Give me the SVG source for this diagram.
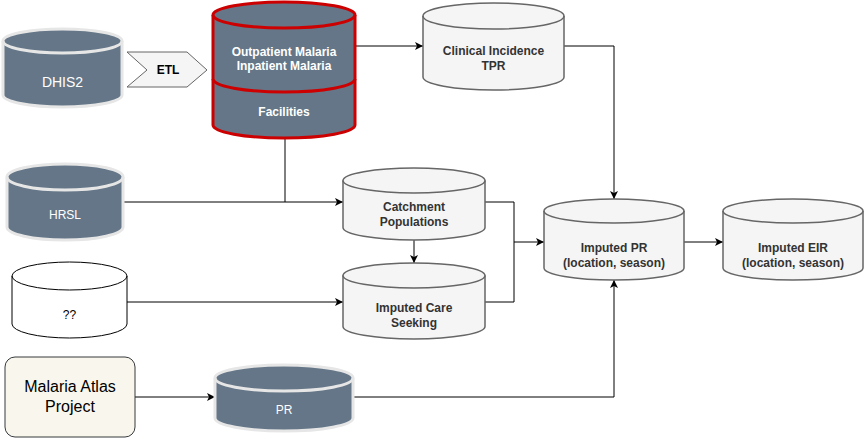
<svg xmlns="http://www.w3.org/2000/svg" width="865" height="439" viewBox="0 0 865 439">
<style>
.dark{fill:#647687;stroke:#e6e6e6;stroke-width:3}
.darkin{fill:none;stroke:#e6e6e6;stroke-width:3}
.red{fill:#647687;stroke:#cc0000;stroke-width:3}
.redin{fill:none;stroke:#cc0000;stroke-width:3}
.light{fill:#f5f5f5;stroke:#666666;stroke-width:1.5}
.lightin{fill:none;stroke:#666666;stroke-width:1.5}
.white{fill:#ffffff;stroke:#000000;stroke-width:1}
.whitein{fill:none;stroke:#000000;stroke-width:1}
text{font-family:"Liberation Sans",Arial,sans-serif;text-anchor:middle}
.wt{fill:#ffffff;font-size:12px;font-weight:bold}
.wr{fill:#ffffff;font-size:12px}
.gt{fill:#333333;font-size:12px;font-weight:bold}
.conn{fill:none;stroke:#000000;stroke-width:1}
</style>
<defs>
<marker id="arr" markerUnits="userSpaceOnUse" markerWidth="10" markerHeight="10" refX="8" refY="4" orient="auto">
<path d="M0,0 L8,4 L0,8 L2,4 Z" fill="#000000"/>
</marker>
</defs>

<g id="connectors">
<path class="conn" d="M355,46 L423,46" marker-end="url(#arr)"/>
<path class="conn" d="M564,46 L614,46 L614,199" marker-end="url(#arr)"/>
<path class="conn" d="M123,202 L343,202" marker-end="url(#arr)"/>
<path class="conn" d="M285,138 L285,202"/>
<path class="conn" d="M414,240 L414,263" marker-end="url(#arr)"/>
<path class="conn" d="M127,302 L343,302" marker-end="url(#arr)"/>
<path class="conn" d="M485,202 L514,202 L514,242 L544,242" marker-end="url(#arr)"/>
<path class="conn" d="M485,302 L514,302 L514,242"/>
<path class="conn" d="M684,242 L723,242" marker-end="url(#arr)"/>
<path class="conn" d="M135,397 L215,397" marker-end="url(#arr)"/>
<path class="conn" d="M353,397 L614,397 L614,280" marker-end="url(#arr)"/>
</g>

<g id="dhis2">
<path class="dark" d="M3,41 A59.5,12 0 0 1 122,41 L122,95 A59.5,12 0 0 1 3,95 Z"/>
<path class="darkin" d="M3,41 A59.5,12 0 0 0 122,41"/>
<text x="62.5" y="87" style="fill:#ffffff;font-size:14px">DHIS2</text>
</g>

<g id="etl">
<polygon points="127,52 187,52 207,70 187,87 127,87 147,70" fill="#f5f5f5" stroke="#666666" stroke-width="1"/>
<text x="168" y="74" style="fill:#000000;font-size:12px;font-weight:bold">ETL</text>
</g>

<g id="facilities-db">
<path class="red" d="M213,15 A71,13 0 0 1 355,15 L355,125 A71,13 0 0 1 213,125 Z"/>
<path class="redin" d="M213,15 A71,13 0 0 0 355,15"/>
<path class="redin" d="M213,79 A71,13 0 0 0 355,79"/>
<text class="wt" x="284" y="56">Outpatient Malaria</text>
<text class="wt" x="284" y="70">Inpatient Malaria</text>
<text class="wt" x="284" y="116">Facilities</text>
</g>

<g id="clinical">
<path class="light" d="M423,16 A70.5,13 0 0 1 564,16 L564,77 A70.5,13 0 0 1 423,77 Z"/>
<path class="lightin" d="M423,16 A70.5,13 0 0 0 564,16"/>
<text class="gt" x="493.5" y="55">Clinical Incidence</text>
<text class="gt" x="493.5" y="70">TPR</text>
</g>

<g id="hrsl">
<path class="dark" d="M7,177 A58,13 0 0 1 123,177 L123,227 A58,13 0 0 1 7,227 Z"/>
<path class="darkin" d="M7,177 A58,13 0 0 0 123,177"/>
<text class="wr" x="65" y="219">HRSL</text>
</g>

<g id="catchment">
<path class="light" d="M343,180.5 A71,12.5 0 0 1 485,180.5 L485,227.5 A71,12.5 0 0 1 343,227.5 Z"/>
<path class="lightin" d="M343,180.5 A71,12.5 0 0 0 485,180.5"/>
<text class="gt" x="414" y="211">Catchment</text>
<text class="gt" x="414" y="226">Populations</text>
</g>

<g id="care-seeking">
<path class="light" d="M343,275.5 A71,12.5 0 0 1 485,275.5 L485,326.5 A71,12.5 0 0 1 343,326.5 Z"/>
<path class="lightin" d="M343,275.5 A71,12.5 0 0 0 485,275.5"/>
<text class="gt" x="414" y="312">Imputed Care</text>
<text class="gt" x="414" y="327">Seeking</text>
</g>

<g id="unknown">
<path class="white" d="M12,276 A57.5,14 0 0 1 127,276 L127,324 A57.5,14 0 0 1 12,324 Z"/>
<path class="whitein" d="M12,276 A57.5,14 0 0 0 127,276"/>
<text x="69.5" y="319" style="fill:#000000;font-size:12px">??</text>
</g>

<g id="imputed-pr">
<path class="light" d="M544,211 A70,12 0 0 1 684,211 L684,268 A70,12 0 0 1 544,268 Z"/>
<path class="lightin" d="M544,211 A70,12 0 0 0 684,211"/>
<text class="gt" x="614" y="252">Imputed PR</text>
<text class="gt" x="614" y="267">(location, season)</text>
</g>

<g id="imputed-eir">
<path class="light" d="M723,211 A70,12 0 0 1 863,211 L863,268 A70,12 0 0 1 723,268 Z"/>
<path class="lightin" d="M723,211 A70,12 0 0 0 863,211"/>
<text class="gt" x="793" y="252">Imputed EIR</text>
<text class="gt" x="793" y="267">(location, season)</text>
</g>

<g id="map">
<rect x="5" y="357" width="130" height="80" rx="10" ry="10" fill="#f9f7ed" stroke="#36393d" stroke-width="1"/>
<text x="70" y="392" style="fill:#000000;font-size:16px">Malaria Atlas</text>
<text x="70" y="412" style="fill:#000000;font-size:16px">Project</text>
</g>

<g id="pr">
<path class="dark" d="M215,378 A69,13 0 0 1 353,378 L353,418 A69,13 0 0 1 215,418 Z"/>
<path class="darkin" d="M215,378 A69,13 0 0 0 353,378"/>
<text class="wr" x="284" y="414">PR</text>
</g>
</svg>
